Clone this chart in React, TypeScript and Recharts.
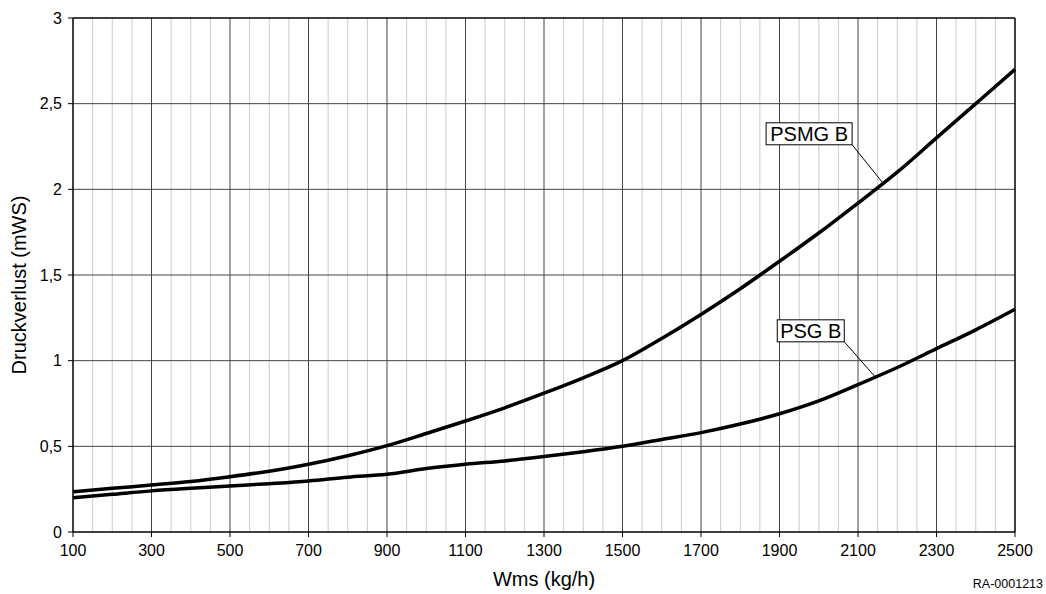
import React from "react";
import {
  LineChart,
  Line,
  XAxis,
  YAxis,
  ReferenceLine,
  ReferenceDot,
  Label,
  Customized,
} from "recharts";

// Massenstrom Wms (kg/h)
const flow = [100, 200, 300, 400, 500, 600, 700, 800, 900, 1000, 1100, 1200, 1300, 1400, 1500, 1600, 1700, 1800, 1900, 2000, 2100, 2200, 2300, 2400, 2500];
// Druckverlust (mWS)
const psmgB = [0.235, 0.255, 0.274, 0.295, 0.323, 0.355, 0.395, 0.445, 0.504, 0.575, 0.648, 0.725, 0.81, 0.9, 1.0, 1.13, 1.27, 1.42, 1.58, 1.745, 1.92, 2.1, 2.3, 2.5, 2.7];
const psgB = [0.2, 0.22, 0.24, 0.255, 0.268, 0.282, 0.298, 0.32, 0.337, 0.37, 0.395, 0.415, 0.44, 0.468, 0.5, 0.54, 0.58, 0.63, 0.69, 0.765, 0.86, 0.96, 1.07, 1.18, 1.3];

const xTicks = [100, 300, 500, 700, 900, 1100, 1300, 1500, 1700, 1900, 2100, 2300, 2500];
const yTicks = [0, 0.5, 1, 1.5, 2, 2.5, 3];

const minorX: number[] = [];
for (let v = 150; v < 2500; v += 50) {
  if ((v - 100) % 200 !== 0) minorX.push(v);
}

const data = flow.map((x, i) => ({ x, psmg: psmgB[i], psg: psgB[i] }));

const FONT = "Liberation Sans, Arial, sans-serif";

const boxLabel = (text: string, w: number) => (props: any) => {
  const { cx, cy } = props;
  return (
    <g>
      <rect x={cx - w} y={cy - 22} width={w} height={22} fill="#fff" stroke="#000" strokeWidth={1} />
      <text x={cx - w / 2} y={cy - 4} textAnchor="middle" fontFamily={FONT} fontSize={20} fill="#000">
        {text}
      </text>
    </g>
  );
};

const App: React.FC = () => {
  return (
    <div style={{ position: "absolute", left: 0, top: 0, background: "#fff" }}>
      <LineChart width={1046} height={594} data={data} margin={{ top: 18, right: 31, bottom: 7, left: 10 }}>
        {minorX.map((v) => (
          <ReferenceLine key={"m" + v} x={v} stroke="#cccccc" strokeWidth={1} />
        ))}
        {xTicks.slice(1, -1).map((v) => (
          <ReferenceLine key={"M" + v} x={v} stroke="#444" strokeWidth={1} />
        ))}
        {yTicks.slice(1, -1).map((v) => (
          <ReferenceLine key={"h" + v} y={v} stroke="#444" strokeWidth={1} />
        ))}
        <ReferenceLine y={3} stroke="#000" strokeWidth={1.5} />
        <ReferenceLine x={2500} stroke="#000" strokeWidth={1.5} />
        <XAxis
          dataKey="x"
          type="number"
          domain={[100, 2500]}
          ticks={xTicks}
          height={55}
          tickSize={5}
          tickMargin={8}
          stroke="#000"
          tick={{ fontSize: 16, fill: "#000", fontFamily: FONT }}
          axisLine={{ stroke: "#000", strokeWidth: 1.5 }}
          tickLine={{ stroke: "#000" }}
        >
          <Label value="Wms (kg/h)" position="insideBottom" offset={1} style={{ fontSize: 20, fill: "#000", fontFamily: FONT }} />
        </XAxis>
        <YAxis
          type="number"
          domain={[0, 3]}
          ticks={yTicks}
          width={63}
          tickSize={5}
          tickMargin={6}
          stroke="#000"
          tickFormatter={(v: number) => String(v).replace(".", ",")}
          tick={{ fontSize: 16, fill: "#000", fontFamily: FONT }}
          axisLine={{ stroke: "#000", strokeWidth: 1.5 }}
          tickLine={{ stroke: "#000" }}
        />
        <Line dataKey="psmg" type="monotone" stroke="#000" strokeWidth={3.5} dot={false} isAnimationActive={false} />
        <Line dataKey="psg" type="monotone" stroke="#000" strokeWidth={3.5} dot={false} isAnimationActive={false} />
        <ReferenceLine segment={[{ x: 2085, y: 2.26 }, { x: 2166, y: 2.03 }]} stroke="#000" strokeWidth={1} />
        <ReferenceLine segment={[{ x: 2065, y: 1.11 }, { x: 2146, y: 0.9 }]} stroke="#000" strokeWidth={1} />
        <ReferenceDot x={2085} y={2.26} r={0} shape={boxLabel("PSMG B", 86)} />
        <ReferenceDot x={2065} y={1.11} r={0} shape={boxLabel("PSG B", 67)} />
        <Customized
          component={() => (
            <g>
              <text
                x={26}
                y={285}
                transform="rotate(-90, 26, 285)"
                textAnchor="middle"
                fontFamily={FONT}
                fontSize={20}
                fill="#000"
              >
                Druckverlust (mWS)
              </text>
              <text x={1043} y={588} textAnchor="end" fontFamily={FONT} fontSize={12.5} fill="#000">
                RA-0001213
              </text>
            </g>
          )}
        />
      </LineChart>
    </div>
  );
};

export default App;
